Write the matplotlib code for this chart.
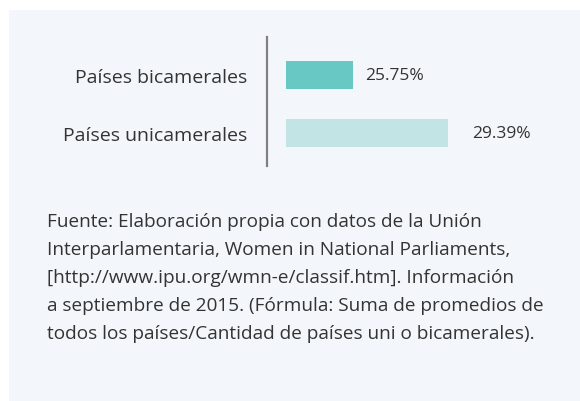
import matplotlib
matplotlib.use('Agg')
import matplotlib.pyplot as plt
from matplotlib.patches import Rectangle

##########Data
categories = ['Países bicamerales', 'Países unicamerales']
values = [25.75, 29.39]
value_labels = ['25.75%', '29.39%']
bar_colors = ['#68c8c4', '#c3e4e4']
caption_lines = [
    'Fuente: Elaboración propia con datos de la Unión',
    'Interparlamentaria, Women in National Parliaments,',
    '[http://www.ipu.org/wmn-e/classif.htm]. Información',
    'a septiembre de 2015. (Fórmula: Suma de promedios de',
    'todos los países/Cantidad de países uni o bicamerales).',
]
#####
W, H = 580, 402
base = 23.2
text_color = '#333333'
plt.rcParams['font.family'] = ['Open Sans', 'DejaVu Sans']

fig = plt.figure(figsize=(W / 100, H / 100), dpi=100)
fig.patch.set_facecolor('white')
fig.patches.append(Rectangle((9 / W, 0), 1, 1 - 11 / H, transform=fig.transFigure,
                             facecolor='#f3f7fb', edgecolor='none', zorder=-5))

ax = fig.add_axes([267 / W, 1 - 167 / H, 293 / W, 129 / H])
ax.set_zorder(2)
ax.set_facecolor('none')
y = list(range(len(categories)))
ax.barh(y, [v - base for v in values], left=base, height=0.483, color=bar_colors)
ax.set_xlim(base - 19 / 26.1, base - 19 / 26.1 + 293 / 26.1)
ax.set_ylim(1.569, -0.655)

offsets = [9, 18]
for yi, v, lab, off in zip(y, values, value_labels, offsets):
    ax.annotate(lab, (v, yi), xytext=(off, 0), textcoords='offset points',
                va='center', ha='left', fontsize=12.5, color=text_color)

ax.set_yticks(y)
ax.set_yticklabels(categories, fontsize=14, color=text_color)
ax.tick_params(axis='y', length=0, pad=14)
ax.set_xticks([])
for s in ['top', 'right', 'bottom']:
    ax.spines[s].set_visible(False)
ax.spines['left'].set_color('#808080')
ax.spines['left'].set_linewidth(1.6)

for i, line in enumerate(caption_lines):
    fig.text(47 / W, 1 - (222 + 28 * i) / H, line, fontsize=13.7, color=text_color,
             ha='left', va='center')

fig.savefig('out.png', dpi=100)
